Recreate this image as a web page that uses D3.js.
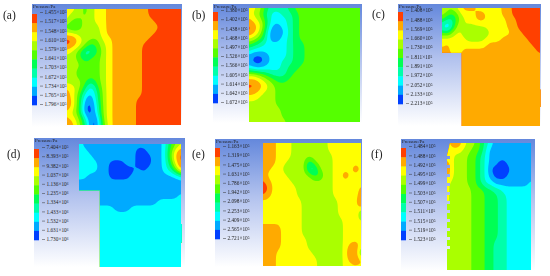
<!DOCTYPE html>
<html>
<head>
<meta charset="utf-8">
<script src="https://cdn.jsdelivr.net/npm/d3@7"></script>
<style>
	html, body { margin: 0; background: #fff; }
	svg { display: block; filter: blur(0.35px); }
	text { font-family: "Liberation Serif", serif; }
</style>
</head>
<body>
<div id="chart"></div>
<script>
// Band colours of the pressure legend, top to bottom.
const bandColors = ["#ff4000", "#ffaa00", "#ffff00", "#aaff00", "#55ff00", "#00ff55", "#00ffaa", "#00ffff", "#00aaff", "#0040ff"];

// Legend tick labels per panel.
const ticksA = ["1.455×10⁵", "1.517×10⁵", "1.548×10⁵", "1.610×10⁵", "1.579×10⁵", "1.641×10⁵", "1.703×10⁵", "1.672×10⁵", "1.734×10⁵", "1.765×10⁵", "1.796×10⁵"];
const ticksB = ["1.380×10⁵", "1.402×10⁵", "1.438×10⁵", "1.468×10⁵", "1.497×10⁵", "1.526×10⁵", "1.566×10⁵", "1.605×10⁵", "1.614×10⁵", "1.642×10⁵", "1.672×10⁵"];
const ticksC = ["1.408×10⁵", "1.488×10⁵", "1.569×10⁵", "1.660×10⁵", "1.730×10⁵", "1.811×10⁵", "1.891×10⁵", "1.972×10⁵", "2.052×10⁵", "2.133×10⁵", "2.213×10⁵"];
const ticksD = ["7.404×10⁵", "8.393×10⁵", "9.382×10⁵", "1.037×10⁶", "1.136×10⁶", "1.235×10⁶", "1.334×10⁶", "1.433×10⁶", "1.532×10⁶", "1.631×10⁶", "1.730×10⁶"];
const ticksE = ["1.163×10⁵", "1.319×10⁵", "1.475×10⁵", "1.631×10⁵", "1.786×10⁵", "1.942×10⁵", "2.098×10⁵", "2.253×10⁵", "2.409×10⁵", "2.565×10⁵", "2.721×10⁵"];
const ticksF = ["1.484×10⁵", "1.488×10⁵", "1.492×10⁵", "1.495×10⁵", "1.499×10⁵", "1.503×10⁵", "1.507×10⁵", "1.511×10⁵", "1.515×10⁵", "1.519×10⁵", "1.523×10⁵"];

// Pressure field per panel, as the legend band read at each grid node (0 = top band).
const fieldA = [
	"22343221111111000000",
	"23343221111111000000",
	"24433221111111100000",
	"46433321111111110000",
	"22333321111111100000",
	"00233422111111000000",
	"01236432111110000000",
	"23476532111110000000",
	"33464432111110000000",
	"33344432111110000000",
	"33444432111110000000",
	"33444432111110000000",
	"33346432111110000000",
	"12358532111110000000",
	"12478632111110000000",
	"02489632111100000000",
	"02499732111100000000",
	"23499732111100000000",
	"12369932111100000000",
	"01359942111100000000",
];
const fieldB = [
	"22356665444444434444",
	"23467766544444444444",
	"12357776544444444444",
	"01258876544444444444",
	"01369886544444444444",
	"23469876544444444444",
	"45677776554444444444",
	"67777776554444444444",
	"89987776554444444444",
	"89987766554444444444",
	"78877765544444444444",
	"33456665444444444444",
	"11234554444444444444",
	"00123444444444444444",
	"11233444444444444444",
	"22333444444444444444",
	"33333444444444444444",
	"33333344444444444444",
	"33333344444444444444",
	"33333334444444444444",
];
const fieldC = [
	"23321112222211000000",
	"34542221122211000000",
	"46643221122221100000",
	"79632333322221100000",
	"45323333332222110000",
	"22222333322211111000",
	"21222222211111111100",
	"11231111111111111110",
	"11111111111111111111",
	"11111111111111111111",
	"11111111111111111111",
	"11111111111111111111",
	"11111111111111111111",
	"11111111111111111111",
	"11111111111111111111",
	"11111111111111111111",
	"11111111111111111111",
	"11111111111111111111",
	"11111111111111111111",
	"11111111111111111111",
];
const fieldD = [
	"78888788888888887543",
	"77888888888998887420",
	"77788888888999887410",
	"77778899988999887520",
	"77778899999898887640",
	"77888899998888888887",
	"88888888888888888888",
	"88888888888888888888",
	"88888888888888888887",
	"88888888888888877777",
	"77777778887777777777",
	"77777777777777777777",
	"77777777777777777777",
	"77777777777777777777",
	"77777777777777777777",
	"77777777777777777777",
	"77777777777777777777",
	"77777777777777777777",
	"77777777777777777777",
	"77777777777777777777",
];
const fieldE = [
	"11122233333332222222",
	"11122233333332222222",
	"11122233333333222222",
	"11122333363333222222",
	"11223333377333222202",
	"12222333335533220222",
	"01222233333333222222",
	"00222223333333222221",
	"01222223333333222221",
	"22222222333333322220",
	"22222222333333322221",
	"22222222333333322206",
	"22222222333333332222",
	"11112222333333332222",
	"11112222333333332222",
	"11112222233333332222",
	"11112222233333332102",
	"11122222223333332006",
	"11122222222333332101",
	"11122222222333332222",
];
const fieldF = [
	"21012334567888888888",
	"22223344578888888888",
	"22333445678888888888",
	"12333445678899888888",
	"02333445679999988888",
	"12333445678999888888",
	"23333445677888888887",
	"23333344455667777777",
	"23333344455566777777",
	"23333344455566777777",
	"33333344455566777777",
	"33333344455566777777",
	"33333344455566777777",
	"33333344455566777777",
	"33333344455566777777",
	"33333344455666777777",
	"33333344455666777777",
	"33333344455666777777",
	"33333344455666777777",
	"33333344455666777777",
];

// Field outlines as fractions of the field box.
const outlineBox = [[0, 0], [1, 0], [1, 1], [0, 1]];
const outlineC = [[0, 0], [1, 0], [1, 0.69], [1.02, 0.69], [1.02, 0.84], [1, 0.84], [1, 1], [0.2, 1], [0.2, 0.38], [0, 0.38]];
const outlineD = [[0, 0], [1, 0], [1, 0.65], [1.02, 0.65], [1.02, 0.8], [1, 0.8], [1, 1], [0.205, 1], [0.205, 0.375], [0, 0.375]];
const teethF = d3.range(11).map((i) => 0.07 + i * 0.071);

const panels = [
	{ name: "(a)", nameX: 3, nameY: 19, ticks: ticksA, field: fieldA, bg: [32, 4, 182, 127], box: [67, 9, 181, 125], bar: [14, 105], outline: outlineBox },
	{ name: "(b)", nameX: 192, nameY: 19, ticks: ticksB, field: fieldB, bg: [213, 4, 362, 123], box: [249, 8, 360, 122], bar: [12, 103], outline: outlineBox },
	{ name: "(c)", nameX: 372, nameY: 18, ticks: ticksC, field: fieldC, bg: [398, 4, 541, 126], box: [442, 8, 540, 126], bar: [12, 104], outline: outlineC },
	{ name: "(d)", nameX: 7, nameY: 158, ticks: ticksD, field: fieldD, bg: [34, 138, 185, 267], box: [79, 144, 181, 267], bar: [149, 240], outline: outlineD },
	{ name: "(e)", nameX: 192, nameY: 158, ticks: ticksE, field: fieldE, bg: [215, 139, 362, 267], box: [263, 143, 361, 266], bar: [148, 239], outline: outlineBox },
	{ name: "(f)", nameX: 371, nameY: 158, ticks: ticksF, field: fieldF, bg: [401, 139, 535, 271], box: [447, 143, 531, 270], bar: [148, 240], teeth: teethF },
];

const svg = d3.select("#chart").append("svg").attr("width", 550).attr("height", 276);
const defs = svg.append("defs");

const grad = defs.append("linearGradient").attr("id", "sky").attr("x1", 0).attr("y1", 0).attr("x2", 0).attr("y2", 1);
grad.append("stop").attr("offset", 0).attr("stop-color", "#6488dc");
grad.append("stop").attr("offset", 0.45).attr("stop-color", "#b2c2ee");
grad.append("stop").attr("offset", 1).attr("stop-color", "#ffffff");

// Outline points of a field in pixels. Panel (f) has a toothed left edge.
function outlinePoints(p) {
	const [x0, y0, x1, y1] = p.box;
	if (p.teeth) {
		const pts = [[x0 + 3, y0], [x1, y0], [x1, y1], [x0, y1]];
		p.teeth.slice().reverse().forEach((t) => {
			const y = y0 + t * (y1 - y0);
			pts.push([x0, y + 7], [x0 + 3, y + 7], [x0 + 3, y + 4], [x0, y + 4]);
		});
		return pts;
	}
	const u = d3.scaleLinear().domain([0, 1]).range([x0, x1]);
	const v = d3.scaleLinear().domain([0, 1]).range([y0, y1]);
	return p.outline.map(([a, b]) => [u(a), v(b)]);
}

function drawPanel(p, index) {
	const g = svg.append("g");
	const [bx0, by0, bx1, by1] = p.bg;
	const [x0, y0, x1, y1] = p.box;

	g.append("rect").attr("x", bx0).attr("y", by0).attr("width", bx1 - bx0).attr("height", by1 - by0).attr("fill", "url(#sky)");

	// Legend bar.
	const band = d3.scaleBand().domain(d3.range(bandColors.length)).range(p.bar);
	g.append("g")
		.selectAll()
		.data(bandColors)
		.join("rect")
		.attr("x", bx0)
		.attr("y", (d, i) => band(i))
		.attr("width", 5)
		.attr("height", band.bandwidth() + 0.3)
		.attr("fill", (d) => d);

	// Legend ticks.
	const tickScale = d3.scalePoint().domain(p.ticks).range([p.bar[0] - 2, p.bar[1] - 1]);
	const axis = g.append("g")
		.attr("transform", `translate(${bx0 + 8},0)`)
		.call(d3.axisRight(tickScale).tickSize(3).tickPadding(1.5));
	axis.select(".domain").remove();
	axis.selectAll("line").attr("stroke", "#333").attr("stroke-width", 0.5);
	axis.selectAll("text").attr("font-size", 5.3).attr("font-family", "Liberation Serif").attr("fill", "#222");

	g.append("text").attr("x", bx0 + 1).attr("y", by0 + 3.6).attr("font-size", 4.8).attr("fill", "#222").text("Pressure/Pa");

	g.append("text").attr("x", p.nameX).attr("y", p.nameY).attr("font-size", 11.5).attr("fill", "#222").text(p.name);

	// Field: bands become filled contours, on a finer copy of the grid so edges stay smooth.
	const rows = p.field.map((r) => Array.from(r, Number));
	const n = rows[0].length, m = rows.length, k = 4;
	const w = (n - 1) * k + 1, h = (m - 1) * k + 1;
	const data = new Float64Array(w * h);
	for (let j = 0; j < h; j++) {
		for (let i = 0; i < w; i++) {
			const ci = Math.min(Math.floor(i / k), n - 2), cj = Math.min(Math.floor(j / k), m - 2);
			const fx = i / k - ci, fy = j / k - cj;
			data[j * w + i] =
				rows[cj][ci] * (1 - fx) * (1 - fy) + rows[cj][ci + 1] * fx * (1 - fy) +
				rows[cj + 1][ci] * (1 - fx) * fy + rows[cj + 1][ci + 1] * fx * fy;
		}
	}
	d3.blur2({ data, width: w, height: h }, 1.6);

	const x = d3.scaleLinear().domain([0.5, w - 0.5]).range([x0, x1]);
	const y = d3.scaleLinear().domain([0.5, h - 0.5]).range([y0, y1]);
	const path = d3.geoPath(d3.geoTransform({
		point(a, b) { this.stream.point(x(a), y(b)); },
	}));
	const contours = d3.contours().size([w, h]).thresholds(d3.range(-0.5, 9.5, 1))(Array.from(data));

	const clipId = `clip-${index}`;
	defs.append("clipPath").attr("id", clipId).append("polygon")
		.attr("points", outlinePoints(p).join(" "));

	g.append("g")
		.attr("clip-path", `url(#${clipId})`)
		.selectAll()
		.data(contours)
		.join("path")
		.attr("d", path)
		.attr("fill", (d) => bandColors[Math.ceil(d.value)]);
}

panels.forEach(drawPanel);
</script>
</body>
</html>
